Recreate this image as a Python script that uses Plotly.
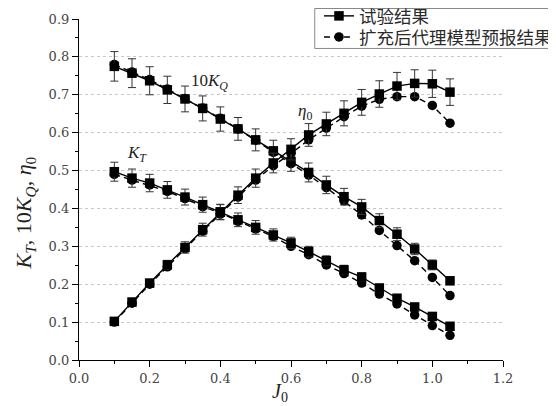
import plotly.graph_objects as go

J = [0.10, 0.15, 0.20, 0.25, 0.30, 0.35, 0.40, 0.45, 0.50, 0.55,
     0.60, 0.65, 0.70, 0.75, 0.80, 0.85, 0.90, 0.95, 1.00, 1.05]

# experimental results (squares)
KT_exp = [0.497, 0.480, 0.467, 0.449, 0.430, 0.410, 0.391, 0.370, 0.350, 0.330,
          0.309, 0.286, 0.262, 0.238, 0.219, 0.190, 0.163, 0.140, 0.115, 0.089]
KQ10_exp = [0.775, 0.757, 0.737, 0.713, 0.689, 0.664, 0.636, 0.610, 0.581, 0.552,
            0.524, 0.495, 0.462, 0.431, 0.404, 0.368, 0.332, 0.293, 0.251, 0.209]
ETA_exp = [0.102, 0.153, 0.203, 0.251, 0.297, 0.344, 0.390, 0.435, 0.480, 0.520,
           0.556, 0.594, 0.623, 0.651, 0.680, 0.702, 0.723, 0.730, 0.729, 0.707]

# error bar half-lengths of experimental results
KT_err = [0.025, 0.024, 0.023, 0.022, 0.021, 0.020, 0.020, 0.018, 0.018, 0.016,
          0.015, 0.014, 0.013, 0.012, 0.011, 0.010, 0.008, 0.007, 0.006, 0.004]
KQ10_err = [0.039, 0.038, 0.037, 0.036, 0.034, 0.033, 0.032, 0.030, 0.029, 0.028,
            0.026, 0.025, 0.023, 0.022, 0.020, 0.018, 0.017, 0.015, 0.013, 0.010]
ETA_err = [0.005, 0.008, 0.010, 0.012, 0.015, 0.017, 0.020, 0.022, 0.024, 0.026,
           0.028, 0.030, 0.031, 0.033, 0.034, 0.035, 0.036, 0.036, 0.036, 0.035]

# surrogate model predictions (circles)
KT_pred = [0.490, 0.475, 0.462, 0.445, 0.426, 0.405, 0.388, 0.366, 0.346, 0.326,
           0.300, 0.278, 0.251, 0.228, 0.203, 0.174, 0.148, 0.119, 0.091, 0.065]
KQ10_pred = [0.780, 0.760, 0.740, 0.715, 0.690, 0.665, 0.638, 0.610, 0.580, 0.548,
             0.518, 0.488, 0.455, 0.420, 0.383, 0.342, 0.302, 0.262, 0.218, 0.170]
ETA_pred = [0.100, 0.150, 0.200, 0.246, 0.294, 0.340, 0.385, 0.430, 0.475, 0.513,
            0.545, 0.581, 0.612, 0.642, 0.670, 0.688, 0.695, 0.695, 0.672, 0.625]

LEGEND_NAMES = ["试验结果", "扩充后代理模型预报结果"]
Y_TICKS = [0.0, 0.1, 0.2, 0.3, 0.4, 0.5, 0.6, 0.7, 0.8, 0.9]
GRID_VALS = [0.1, 0.2, 0.3, 0.4, 0.5, 0.6, 0.7, 0.8]
X_TICKS = [0.0, 0.2, 0.4, 0.6, 0.8, 1.0, 1.2]

fig = go.Figure()

pred_sets = [KT_pred, KQ10_pred, ETA_pred]
exp_sets = [(KT_exp, KT_err), (KQ10_exp, KQ10_err), (ETA_exp, ETA_err)]

for i, yv in enumerate(pred_sets):
    fig.add_trace(go.Scatter(
        x=J, y=yv, mode="lines+markers",
        name=LEGEND_NAMES[1], legendgroup="pred", showlegend=(i == 0),
        legend="legend2",
        line=dict(color="black", width=1.4, dash="6px,4px"),
        marker=dict(symbol="circle", size=9.5, color="black"),
    ))

for i, (yv, ev) in enumerate(exp_sets):
    fig.add_trace(go.Scatter(
        x=J, y=yv, mode="lines+markers",
        name=LEGEND_NAMES[0], legendgroup="exp", showlegend=(i == 0),
        legend="legend",
        line=dict(color="black", width=1.4),
        marker=dict(symbol="square", size=9.5, color="black"),
        error_y=dict(type="data", array=ev, visible=True, color="#333333",
                     thickness=1, width=4),
    ))

# hidden overlay axis just for the dotted gridlines
fig.add_trace(go.Scatter(x=[None], y=[None], yaxis="y2", showlegend=False, hoverinfo="skip"))

serif = "DejaVu Serif"
times = "Liberation Serif"
cjk = "Noto Sans CJK SC"

leg_common = dict(
    xanchor="left", yanchor="middle",
    bgcolor="rgba(0,0,0,0)", borderwidth=0,
    font=dict(family=cjk, size=17.5, color="#2a2a2a"),
    itemwidth=30,
)

fig.update_layout(
    width=556, height=406,
    margin=dict(l=71.3, r=61.3, t=11, b=53.7, autoexpand=False),
    paper_bgcolor="white", plot_bgcolor="white",
    font=dict(family=serif, color="#222222", size=13),
    xaxis=dict(
        range=[0, 1.2], tickvals=X_TICKS, tickformat=".1f",
        showline=True, linecolor="black", linewidth=1.2,
        ticks="outside", ticklen=6, tickcolor="black", tickwidth=1.2,
        minor=dict(dtick=0.1, ticks="outside", ticklen=3, tickcolor="black"),
        showgrid=False, zeroline=False,
        tickfont=dict(family=serif, size=13, color="#444444"),
    ),
    yaxis=dict(
        range=[0, 0.9], tickvals=Y_TICKS, tickformat=".1f",
        showline=True, linecolor="black", linewidth=1.2,
        ticks="outside", ticklen=6, tickcolor="black", tickwidth=1.2,
        minor=dict(dtick=0.05, ticks="outside", ticklen=3, tickcolor="black"),
        showgrid=False, zeroline=False,
        tickfont=dict(family=serif, size=13, color="#444444"),
    ),
    yaxis2=dict(
        range=[0, 0.9], overlaying="y", tickvals=GRID_VALS,
        showticklabels=False, ticks="", showgrid=True,
        gridcolor="#c8c8c8", gridwidth=1, griddash="dot",
        zeroline=False, showline=False,
    ),
    legend=dict(x=0.566, y=1.0088, **leg_common),
    legend2=dict(x=0.566, y=0.947, **leg_common),
    showlegend=True,
)

# legend frame
fig.add_shape(type="rect", xref="paper", yref="paper",
              x0=0.556, x1=1.2, y0=0.9136, y1=1.0308,
              line=dict(color="#888888", width=1), fillcolor="white", layer="above")

ann_font = dict(family=times, size=17, color="#222222")
fig.add_annotation(x=0.368, y=0.735, text="10<i>K</i><sub><i>Q</i></sub>",
                   showarrow=False, font=ann_font)
fig.add_annotation(x=0.64, y=0.655, text="<i>η</i><sub>0</sub>",
                   showarrow=False, font=ann_font)
fig.add_annotation(x=0.164, y=0.545, text="<i>K</i><sub><i>T</i></sub>",
                   showarrow=False, font=ann_font)
fig.add_annotation(
    xref="paper", yref="paper", x=-0.128, y=0.432,
    xanchor="center", yanchor="middle",
    text="<i>K</i><sub><i>T</i></sub>, 10<i>K</i><sub><i>Q</i></sub>, <i>η</i><sub>0</sub>",
    textangle=-90, showarrow=False, font=dict(family=times, size=22, color="#222222"),
)
fig.add_annotation(
    xref="paper", yref="paper", x=0.474, y=-0.096,
    xanchor="center", yanchor="middle",
    text="<i>J</i><sub>0</sub>",
    showarrow=False, font=dict(family=times, size=20, color="#222222"),
)

fig.write_html("out.html")
